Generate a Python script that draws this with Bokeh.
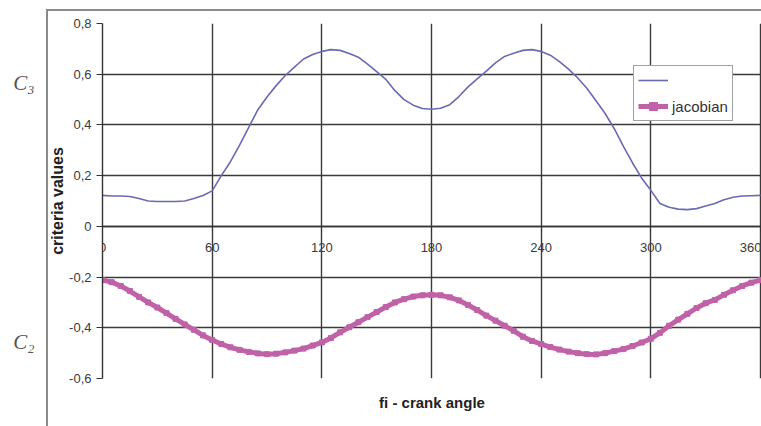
from bokeh.plotting import figure
from bokeh.models import (Range1d, FixedTicker, CustomJSTickFormatter, Legend, LegendItem,
                          LinearAxis, Title, ColumnDataSource)
from bokeh.embed import file_html
from bokeh.resources import INLINE

# ---------------- data ----------------
angle = list(range(0, 361, 5))
c3 = [0.122, 0.120, 0.120, 0.118, 0.110, 0.100, 0.098, 0.098, 0.098, 0.100,
      0.110, 0.122, 0.140, 0.200, 0.255, 0.320, 0.390, 0.460, 0.510, 0.555,
      0.595, 0.628, 0.660, 0.678, 0.690, 0.697, 0.694, 0.682, 0.667, 0.640,
      0.610, 0.580, 0.535, 0.500, 0.478, 0.465, 0.462, 0.466, 0.480, 0.512,
      0.550, 0.582, 0.612, 0.645, 0.670, 0.683, 0.694, 0.697, 0.690, 0.675,
      0.650, 0.620, 0.585, 0.545, 0.495, 0.445, 0.385, 0.315, 0.250, 0.190,
      0.142, 0.090, 0.075, 0.068, 0.066, 0.070, 0.080, 0.090, 0.105, 0.115,
      0.120, 0.121, 0.122]
jacobian = [-0.212, -0.220, -0.235, -0.255, -0.278, -0.300, -0.320, -0.342, -0.365, -0.387,
            -0.408, -0.430, -0.448, -0.464, -0.477, -0.487, -0.495, -0.501, -0.504, -0.502,
            -0.497, -0.490, -0.482, -0.470, -0.458, -0.440, -0.418, -0.398, -0.378, -0.358,
            -0.338, -0.318, -0.300, -0.287, -0.277, -0.272, -0.270, -0.272, -0.280, -0.292,
            -0.310, -0.330, -0.352, -0.372, -0.392, -0.412, -0.435, -0.452, -0.464, -0.476,
            -0.486, -0.494, -0.500, -0.504, -0.505, -0.500, -0.492, -0.484, -0.472, -0.458,
            -0.443, -0.420, -0.392, -0.368, -0.345, -0.322, -0.303, -0.290, -0.270, -0.252,
            -0.235, -0.222, -0.212]
x_ticks = [0, 60, 120, 180, 240, 300, 360]
y_ticks = [-0.6, -0.4, -0.2, 0, 0.2, 0.4, 0.6, 0.8]
series_label_c3 = " "
series_label_jac = "jacobian"
x_title = "fi - crank angle"
y_title = "criteria values"
side_labels = ["C\u2083", "C\u2082"]

# ---------------- layout (positions / styles) ----------------
W, H = 761, 426
BL, BT, BB = 102, 23, 48
FW, FH = W - BL, H - BT - BB
X0, X1 = 0, 360 * FW / (FW - 1)
Y0, Y1 = -0.6, 0.8
side_label_pos = [0.567, -0.455]   # vertical placement of the C3 / C2 marks

p = figure(width=W, height=H, output_backend="svg", toolbar_location=None,
           x_range=Range1d(X0, X1), y_range=Range1d(Y0, Y1),
           min_border_left=BL, min_border_right=0, min_border_top=BT, min_border_bottom=BB)
p.outline_line_color = None
p.background_fill_color = "white"
p.border_fill_color = None
# outer chart-area border (left and top edge), drawn behind the transparent canvas border
p.styles = {
    "background": ("linear-gradient(#8a8a8a,#8a8a8a) 46px 9px / 2px calc(100% - 9px) no-repeat, "
                   "linear-gradient(#8a8a8a,#8a8a8a) 46px 9px / calc(100% - 46px) 2px no-repeat, "
                   "white"),
}

# grid
for g, t in ((p.xgrid, x_ticks), (p.ygrid, y_ticks)):
    g.ticker = FixedTicker(ticks=t)
    g.grid_line_color = "#3a3a3a"
    g.grid_line_width = 1.4

# x axis crossing at 0
xa = p.xaxis[0]
xa.fixed_location = 0
xa.ticker = FixedTicker(ticks=x_ticks)
xa.major_tick_in = 0
xa.major_tick_out = 5
xa.minor_tick_line_color = None
xa.axis_line_color = "#333333"
xa.axis_line_width = 1.4
xa.major_tick_line_color = "#333333"
xa.major_label_text_font = "Liberation Sans"
xa.major_label_text_font_size = "13px"
xa.major_label_text_color = "#3a3a3a"
xa.major_label_standoff = 12

ya = p.yaxis[0]
ya.ticker = FixedTicker(ticks=y_ticks)
ya.formatter = CustomJSTickFormatter(
    code="return Math.abs(tick) < 1e-9 ? '0' : tick.toFixed(1).replace('.', ',');")
ya.major_tick_in = 0
ya.major_tick_out = 6
ya.minor_tick_line_color = None
ya.axis_line_color = "#333333"
ya.axis_line_width = 1.4
ya.major_tick_line_color = "#333333"
ya.major_label_text_font = "Liberation Sans"
ya.major_label_text_font_size = "13px"
ya.major_label_text_color = "#3a3a3a"
ya.major_label_standoff = 5
ya.axis_label = y_title
ya.axis_label_text_font = "Liberation Sans"
ya.axis_label_text_font_style = "bold"
ya.axis_label_text_font_size = "16px"
ya.axis_label_text_color = "#222222"
ya.axis_label_standoff = 0

# C3 / C2 marks on the far left
ca = LinearAxis(ticker=FixedTicker(ticks=side_label_pos),
                major_label_overrides=dict(zip(side_label_pos, side_labels)))
ca.axis_line_color = None
ca.major_tick_line_color = None
ca.minor_tick_line_color = None
ca.major_tick_out = 0
ca.major_tick_in = 0
ca.major_label_standoff = 12
ca.major_label_text_font = "Liberation Serif"
ca.major_label_text_font_style = "italic"
ca.major_label_text_font_size = "21px"
ca.major_label_text_color = "#555555"
p.add_layout(ca, "left")

# x title
p.add_layout(Title(text=x_title, align="center", standoff=27, text_font="Liberation Sans",
                   text_font_style="bold", text_font_size="15px", text_color="#222222"), "below")

src = ColumnDataSource(data=dict(angle=angle, c3=c3, jac=jacobian))
r_c3 = p.line("angle", "c3", source=src, line_color="#6a6ab4", line_width=1.6)
r_jl = p.line("angle", "jac", source=src, line_color="#c062a8", line_width=5)
r_jm = p.scatter("angle", "jac", source=src, marker="square", size=5,
                 fill_color="#c062a8", line_color="#c062a8")

legend = Legend(items=[LegendItem(label=series_label_c3, renderers=[r_c3]),
                       LegendItem(label=series_label_jac, renderers=[r_jl, r_jm])],
                location=(531, FH - 44 - 54))
legend.border_line_color = "#444444"
legend.border_line_width = 1.5
legend.background_fill_color = "white"
legend.background_fill_alpha = 1
legend.label_text_font = "Liberation Sans"
legend.label_text_font_size = "15px"
legend.label_text_color = "#333333"
legend.glyph_width = 30
legend.glyph_height = 20
legend.label_height = 20
legend.label_standoff = 4
legend.spacing = 6
legend.padding = 4
legend.margin = 0
p.add_layout(legend, "center")

open("out.html", "w").write(file_html(p, INLINE))
